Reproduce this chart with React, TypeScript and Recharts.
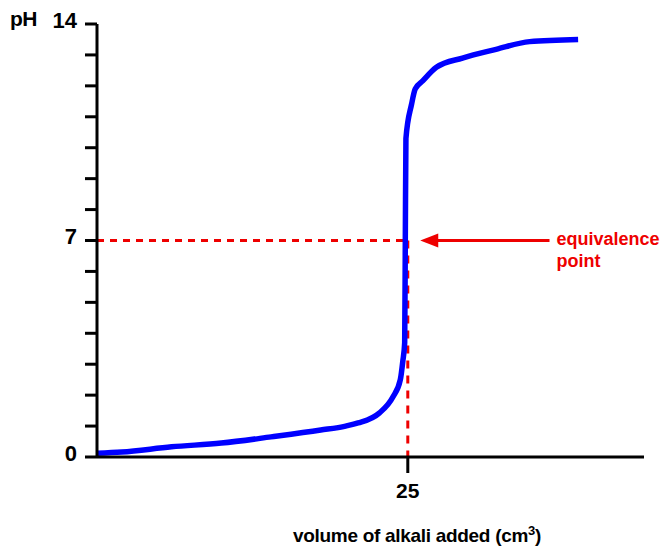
import React from 'react';
import { LineChart, Line, XAxis, YAxis, ReferenceLine, Label } from 'recharts';

// volume of alkali added (cm3) and the pH
const volumes = [0, 2, 6, 10, 14, 18, 20, 21, 22.7, 23.8, 24.4, 24.6, 24.75, 24.8, 24.85, 25.3, 25.6, 26.2, 27.3, 29.4, 32.1, 34.8, 38.7];
const phValues = [0.12, 0.16, 0.33, 0.45, 0.65, 0.87, 1.0, 1.1, 1.42, 1.94, 2.5, 3.1, 3.7, 7, 10.3, 11.4, 11.9, 12.16, 12.6, 12.9, 13.18, 13.43, 13.5];

const yTicks = [0, 1, 2, 3, 4, 5, 6, 7, 8, 9, 10, 11, 12, 13, 14];
const yLabelled = [0, 7, 14];
const xTicks = [25];

const equivalenceVolume = 25;
const equivalenceCurveVolume = 24.8;
const equivalencePH = 7;
const arrowFrom = 36.4;
const arrowTo = 26;
const annotationLines = ['equivalence', 'point'];

const data = volumes.map((v, i) => ({ volume: v, ph: phValues[i] }));

const RED = '#ee0000';
const FONT = 'Arial, "Liberation Sans", Helvetica, sans-serif';

const ArrowShape = (props: any) => {
  const { x1, y1, x2 } = props;
  // x1 is tail (right), x2 is the tip (left)
  const tail = Math.max(x1, x2);
  const tip = Math.min(x1, x2);
  const y = y1;
  return (
    <g>
      <line x1={tail} y1={y} x2={tip + 14} y2={y} stroke={RED} strokeWidth={3} />
      <polygon points={`${tip},${y} ${tip + 18},${y - 7} ${tip + 18},${y + 7}`} fill={RED} />
      <text x={tail + 7} y={y + 4} fill={RED} fontFamily={FONT} fontWeight="bold" fontSize={18}>
        {annotationLines[0]}
      </text>
      <text x={tail + 7} y={y + 26} fill={RED} fontFamily={FONT} fontWeight="bold" fontSize={18}>
        {annotationLines[1]}
      </text>
    </g>
  );
};

const App: React.FC = () => {
  return (
    <div style={{ position: 'absolute', left: 0, top: 0, background: '#fff' }}>
      <LineChart width={667} height={552} data={data} margin={{ top: 24, right: 23, bottom: 0, left: 0 }}>
        <XAxis
          dataKey="volume"
          type="number"
          domain={[0, 44]}
          ticks={xTicks}
          axisLine={{ stroke: '#000', strokeWidth: 3 }}
          tickLine={{ stroke: '#000', strokeWidth: 3 }}
          tickSize={16}
          tickMargin={10}
          tick={{ fill: '#000', fontSize: 21, fontWeight: 'bold', fontFamily: FONT }}
          height={95}
        >
          <Label
            content={(p: any) => {
              const vb = p.viewBox || {};
              return (
                <text
                  x={vb.x + 196}
                  y={vb.y + 85}
                  fill="#000"
                  fontFamily={FONT}
                  fontWeight="bold"
                  fontSize={19}
                  letterSpacing={-0.3}
                >
                  volume of alkali added (cm
                  <tspan dy={-7} fontSize={13}>3</tspan>
                  <tspan dy={7}>)</tspan>
                </text>
              );
            }}
          />
        </XAxis>
        <YAxis
          type="number"
          domain={[0, 14]}
          ticks={yTicks}
          interval={0}
          width={97}
          axisLine={{ stroke: '#000', strokeWidth: 3 }}
          tickLine={{ stroke: '#000', strokeWidth: 3 }}
          tickSize={12}
          tickMargin={8}
          tickFormatter={(v: number) => (yLabelled.includes(v) ? String(v) : '')}
          tick={{ fill: '#000', fontSize: 22, fontWeight: 'bold', fontFamily: FONT, dy: -4 }}
        >
          <Label
            content={(p: any) => {
              const vb = p.viewBox || {};
              return (
                <text x={10} y={vb.y + 2} fill="#000" fontFamily={FONT} fontWeight="bold" fontSize={21} letterSpacing={-0.5}>
                  pH
                </text>
              );
            }}
          />
        </YAxis>
        <ReferenceLine
          segment={[
            { x: 0, y: equivalencePH },
            { x: equivalenceCurveVolume, y: equivalencePH },
          ]}
          stroke={RED}
          strokeWidth={3}
          strokeDasharray="7 6"
        />
        <ReferenceLine
          segment={[
            { x: equivalenceVolume, y: equivalencePH },
            { x: equivalenceVolume, y: 0 },
          ]}
          stroke={RED}
          strokeWidth={3}
          strokeDasharray="8 7"
        />
        <Line
          type="monotone"
          dataKey="ph"
          stroke="#0000ff"
          strokeWidth={5.5}
          dot={false}
          activeDot={false}
          isAnimationActive={false}
        />
        <ReferenceLine
          segment={[
            { x: arrowFrom, y: equivalencePH },
            { x: arrowTo, y: equivalencePH },
          ]}
          ifOverflow="visible"
          shape={ArrowShape}
        />
      </LineChart>
    </div>
  );
};

export default App;
